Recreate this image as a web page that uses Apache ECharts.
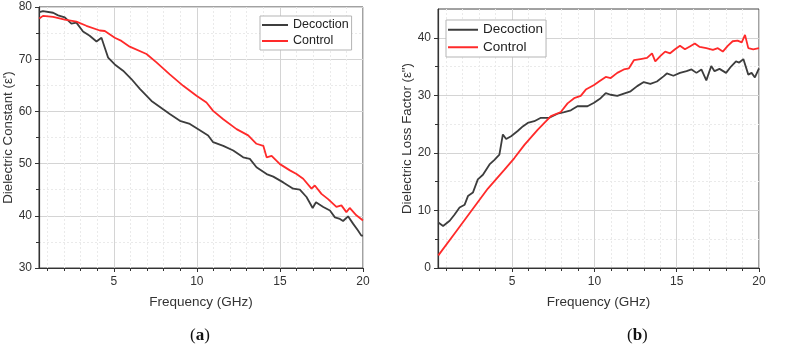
<!DOCTYPE html>
<html><head><meta charset="utf-8">
<script src="https://cdn.jsdelivr.net/npm/echarts@6/dist/echarts.min.js"></script>
<style>html,body{margin:0;padding:0;background:#fff}#c{width:790px;height:350px}</style>
</head><body><div id="c"></div>
<script>
// ---- Data: panel (a) Dielectric Constant ----
const freqA_dec = [0.52,0.74,1.35,1.65,2.05,2.45,2.75,3.15,3.55,3.96,4.26,4.46,4.66,5.06,5.56,6.06,6.57,7.27,7.97,8.37,8.98,9.58,10.18,10.68,10.98,11.59,12.19,12.79,13.19,13.59,14.2,14.6,15.2,15.8,16.2,16.6,16.97,17.17,17.61,18.01,18.31,18.61,18.8,19.1,19.4,19.7,19.9,20];
const valA_dec  = [79.0,79.2,78.9,78.4,78.0,76.8,77.0,75.3,74.5,73.4,74.1,72.2,70.3,69.0,67.8,66.2,64.3,62.0,60.4,59.5,58.2,57.6,56.4,55.4,54.1,53.4,52.5,51.2,50.9,49.3,48.0,47.5,46.4,45.2,45.0,43.6,41.5,42.6,41.7,41.0,39.7,39.4,39.0,39.9,38.5,37.2,36.2,36.2];
const freqA_ctl = [0.52,0.74,1.35,2.05,2.75,3.35,4.16,4.46,5.06,5.46,5.96,6.97,7.57,8.37,9.18,9.98,10.58,10.98,11.59,12.39,13.09,13.59,14.0,14.2,14.5,15.0,15.6,16.0,16.4,16.9,17.1,17.5,17.9,18.4,18.7,19.0,19.2,19.6,20];
const valA_ctl  = [77.8,78.3,78.1,77.6,77.2,76.4,75.5,75.4,74.1,73.5,72.4,71.0,69.4,67.1,64.9,63.0,61.7,60.1,58.5,56.6,55.4,53.8,53.4,51.2,51.5,49.9,48.7,48.0,47.1,45.2,45.8,44.2,43.2,41.7,42.0,40.7,41.5,40.1,39.1];
// ---- Data: panel (b) Dielectric Loss Factor ----
const freqB_dec = [0.52,0.81,1.21,1.51,1.81,2.12,2.32,2.62,2.92,3.23,3.63,3.93,4.23,4.44,4.64,4.94,5.34,5.65,5.95,6.35,6.75,7.26,7.76,8.17,8.57,8.97,9.58,9.98,10.38,10.69,10.99,11.39,11.79,12.2,12.6,13.0,13.4,13.8,14.2,14.4,14.8,15.2,15.6,15.9,16.2,16.5,16.8,17.1,17.3,17.6,18.0,18.3,18.6,18.8,19.05,19.35,19.55,19.75,20];
const valB_dec  = [7.9,7.3,8.2,9.3,10.5,11.0,12.5,13.1,15.4,16.2,18.0,18.8,19.7,23.2,22.4,22.9,23.8,24.6,25.2,25.5,26.1,26.1,26.8,27.1,27.4,28.1,28.1,28.7,29.5,30.4,30.1,29.9,30.3,30.7,31.6,32.3,32.0,32.4,33.3,33.8,33.4,33.9,34.2,34.5,33.9,34.5,32.6,35.1,34.2,34.6,33.9,35.0,35.9,35.7,36.3,33.6,33.9,33.1,34.7];
const freqB_ctl = [0.52,1.51,2.52,3.53,4.54,5.14,5.75,6.55,7.36,7.96,8.37,8.77,9.17,9.48,9.98,10.28,10.69,10.99,11.39,11.79,12.1,12.4,12.8,13.2,13.5,13.7,14.0,14.3,14.6,14.9,15.2,15.5,15.8,16.1,16.4,16.8,17.2,17.5,17.8,18.1,18.4,18.7,18.95,19.15,19.35,19.65,20];
const valB_ctl  = [2.2,6.0,9.9,13.8,17.1,19.1,21.4,24.0,26.4,27.1,28.6,29.5,29.9,31.0,31.8,32.4,33.2,33.0,33.9,34.5,34.7,36.1,36.3,36.5,37.3,35.9,36.8,37.6,37.3,38.0,38.6,38.0,38.5,39.0,38.4,38.2,37.9,38.2,37.6,38.6,39.4,39.5,39.2,40.5,38.2,38.0,38.2];
// ---- Ticks ----
const xMajor = [5,10,15,20];
const xMinor = [1,2,3,4,6,7,8,9,11,12,13,14,16,17,18,19];
const yMajorA = [30,40,50,60,70,80];
const yMinorA = [35,45,55,65,75];
const yMajorB = [0,10,20,30,40];
const yMinorB = [5,15,25,35];
const seriesNames = ['Decoction','Control'];
const colors = ['#3d3d3d','#ff2a2a'];

const zip = (a,b) => a.map((v,i)=>[v,b[i]]);
const FONT = 'Liberation Sans';
const txt = {fontFamily:FONT, fontSize:12, color:'#333'};

function majorX(grid){
  return {gridIndex:grid, type:'value', min:0.5, max:20, position:'bottom',
    name:'Frequency (GHz)', nameLocation:'middle', nameGap:27,
    nameTextStyle:{fontFamily:FONT, fontSize:13.5, color:'#333'},
    axisLine:{show:true, onZero:false, lineStyle:{color:'#333', width:1.2}},
    axisTick:{show:true, customValues:xMajor, length:4, lineStyle:{color:'#333'}},
    axisLabel:{show:true, customValues:xMajor, margin:8, ...txt},
    splitLine:{show:true, lineStyle:{color:'#d4d4d4', width:1}}};
}
function minorX(grid){
  return {gridIndex:grid, type:'value', min:0.5, max:20, position:'bottom',
    axisLine:{show:false, onZero:false}, axisLabel:{show:false},
    axisTick:{show:true, customValues:xMinor, length:3, lineStyle:{color:'#333'}},
    splitLine:{show:true, lineStyle:{color:'#eaeaea', width:1, type:[2,2]}}};
}
function majorY(grid,min,max,ticks,name){
  return {gridIndex:grid, type:'value', min:min, max:max, position:'left',
    name:name, nameLocation:'middle', nameGap:23,
    nameTextStyle:{fontFamily:FONT, fontSize:13.3, color:'#333'},
    axisLine:{show:true, onZero:false, lineStyle:{color:'#333', width:1.2}},
    axisTick:{show:true, customValues:ticks, length:4, lineStyle:{color:'#333'}},
    axisLabel:{show:true, customValues:ticks, margin:7, ...txt},
    splitLine:{show:true, lineStyle:{color:'#d4d4d4', width:1}}};
}
function minorY(grid,min,max,ticks){
  return {gridIndex:grid, type:'value', min:min, max:max, position:'left',
    axisLine:{show:false, onZero:false}, axisLabel:{show:false},
    axisTick:{show:true, customValues:ticks, length:3, lineStyle:{color:'#333'}},
    splitLine:{show:true, lineStyle:{color:'#eaeaea', width:1, type:[2,2]}}};
}
function line(name, data, xi, yi, color){
  return {name:name, type:'line', xAxisIndex:xi, yAxisIndex:yi, data:data,
    showSymbol:false, symbol:'none', lineStyle:{color:color, width:1.8}, itemStyle:{color:color}, z:5};
}
function legend(left, top, fs, lh, iw){
  return {data:seriesNames, left:left, top:top, orient:'vertical', icon:'rect',
    itemWidth:iw, itemHeight:2, itemGap:2, padding:[2,3,2,2],
    borderColor:'#b5b5b5', borderWidth:1, backgroundColor:'#fff',
    textStyle:{fontFamily:FONT, fontSize:fs, lineHeight:lh, color:'#222'}};
}

const chart = echarts.init(document.getElementById('c'), null, {renderer:'canvas'});
chart.setOption({
  animation:false,
  backgroundColor:'#fff',
  grid:[
    {left:39, top:7, width:324, height:261, show:true, borderColor:'#444', borderWidth:1},
    {left:438, top:9, width:321, height:259, show:true, borderColor:'#444', borderWidth:1}
  ],
  xAxis:[majorX(0), minorX(0), majorX(1), minorX(1)],
  yAxis:[
    majorY(0,30,80,yMajorA,"Dielectric Constant (ε')"), minorY(0,30,80,yMinorA),
    majorY(1,0,45,yMajorB,'Dielectric Loss Factor (ε")'), minorY(1,0,45,yMinorB)
  ],
  legend:[legend(260,16,12.5,14,26), legend(446,20,13.5,15.5,30)],
  series:[
    line(seriesNames[0], zip(freqA_dec,valA_dec), 0, 0, colors[0]),
    line(seriesNames[1], zip(freqA_ctl,valA_ctl), 0, 0, colors[1]),
    line(seriesNames[0], zip(freqB_dec,valB_dec), 2, 2, colors[0]),
    line(seriesNames[1], zip(freqB_ctl,valB_ctl), 2, 2, colors[1])
  ],
  graphic:[
    {type:'text', left:190, top:327, style:{text:'{p|(}{b|a}{p|)}', rich:{
      p:{fontFamily:'Liberation Serif', fontSize:17, fill:'#111'},
      b:{fontFamily:'Liberation Serif', fontSize:17, fontWeight:'bold', fill:'#111'}}}},
    {type:'text', left:627, top:327, style:{text:'{p|(}{b|b}{p|)}', rich:{
      p:{fontFamily:'Liberation Serif', fontSize:17, fill:'#111'},
      b:{fontFamily:'Liberation Serif', fontSize:17, fontWeight:'bold', fill:'#111'}}}}
  ]
});
</script></body></html>
